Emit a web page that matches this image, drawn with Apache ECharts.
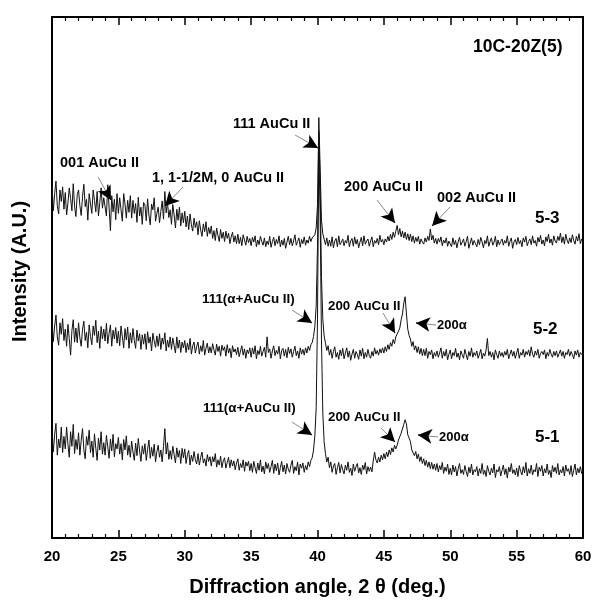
<!DOCTYPE html>
<html>
<head>
<meta charset="utf-8">
<script src="https://cdn.jsdelivr.net/npm/echarts@6/dist/echarts.min.js"></script>
<style>html,body{margin:0;padding:0;background:#fff}#chart{width:600px;height:613px}</style>
</head>
<body>
<div id="chart"></div>
<script>
// 2-theta sampling: 20.0 .. 60.0 every 0.1 deg (one row = one degree)
const thetaStart = 20, thetaStep = 0.1;
const xTickLabels = ['20','25','30','35','40','45','50','55','60'];
const seriesNames = ['5-3','5-2','5-1'];

const s53 = [
67.6,62.8,66.1,68.5,63.8,62.2,66.8,64.6,67.4,63.1,
66.3,62.0,64.3,67.2,65.2,62.8,68.0,63.7,61.7,65.9,
66.8,63.8,61.9,65.6,67.9,63.6,65.0,61.0,66.1,64.1,
62.3,66.8,64.8,62.6,66.5,61.8,64.4,67.2,63.3,65.3,
65.3,61.8,67.8,63.5,59.0,65.7,62.6,65.0,61.1,66.1,
62.3,65.3,63.0,60.8,66.1,64.1,61.4,64.8,62.5,65.7,
61.4,64.8,62.3,64.2,60.6,65.4,61.8,63.5,60.2,64.4,
63.9,60.9,65.1,62.0,60.1,64.1,63.0,65.3,60.8,62.3,
63.5,60.5,62.7,64.7,61.2,66.5,62.4,64.5,61.5,63.0,
60.2,64.0,62.0,59.5,63.1,61.0,63.5,59.9,62.4,60.5,
62.7,59.7,61.8,59.2,62.2,60.1,58.9,61.4,59.6,60.7,
58.2,60.9,59.1,57.9,60.3,58.8,60.7,57.9,59.6,58.4,
59.9,57.5,59.0,57.1,59.5,58.1,56.9,59.2,57.5,58.7,
56.9,58.9,57.5,58.5,56.5,57.8,58.7,56.8,58.0,56.5,
58.3,56.5,57.7,56.1,58.2,57.2,56.2,57.9,56.7,57.5,
56.1,57.7,56.8,58.0,55.9,57.2,56.3,57.9,56.9,56.2,
57.6,55.9,57.0,56.3,57.9,55.8,56.9,57.7,56.1,57.3,
56.5,58.0,55.9,57.2,56.2,57.5,55.6,56.8,57.9,56.3,
57.5,56.1,57.0,58.2,56.2,56.9,57.6,55.8,57.3,56.5,
57.8,56.2,57.2,56.6,57.9,56.9,57.6,57.3,58.2,59.5,
64.0,80.7,71.0,61.0,58.4,58.1,56.3,57.6,56.0,57.2,
56.0,57.8,55.7,57.0,57.5,55.9,58.0,56.3,56.8,57.4,
56.1,57.1,56.6,58.1,55.9,57.0,57.5,56.0,57.8,56.4,
57.3,55.7,56.8,57.7,56.1,58.0,56.4,57.0,57.4,56.0,
57.0,57.8,55.9,57.1,56.6,57.5,56.3,58.1,56.8,57.3,
56.3,57.4,56.8,57.9,57.0,58.3,57.3,58.7,57.7,58.9,
60.0,58.2,59.4,57.8,58.9,57.6,58.7,57.3,58.4,57.1,
58.3,56.9,58.0,56.6,57.7,56.9,57.9,56.4,57.4,56.8,
56.4,57.6,56.8,57.9,57.1,59.3,57.2,58.1,56.6,57.5,
56.4,57.5,56.8,57.8,56.1,57.2,56.6,57.6,56.0,57.0,
56.8,55.9,57.6,56.3,57.1,55.7,56.9,57.7,56.2,56.8,
57.4,56.0,56.9,57.9,55.6,56.6,57.6,56.2,57.1,56.5,
55.9,57.3,56.3,57.7,56.8,55.7,57.1,56.5,58.0,56.0,
56.9,57.6,56.2,56.8,57.9,55.9,57.2,56.3,56.9,57.4,
56.2,57.1,56.6,58.0,56.0,56.9,57.6,55.6,56.8,57.3,
56.3,57.7,56.5,57.1,55.9,57.6,56.8,57.9,56.1,56.9,
57.4,56.3,58.0,56.6,57.1,56.0,57.7,56.8,58.1,56.4,
57.2,56.1,57.8,56.9,58.3,56.6,57.4,56.2,58.0,57.0,
56.6,57.9,57.1,58.5,56.7,57.8,56.4,58.3,57.2,56.5,
57.6,56.7,58.2,57.1,56.4,57.9,57.0,58.4,56.5,57.4,
57.0
];
const s52 = [
41.7,37.7,40.7,42.8,38.6,37.0,41.3,39.1,42.1,37.9,
40.1,36.8,41.0,38.3,35.1,39.8,41.9,37.6,40.3,37.5,
41.3,38.4,36.8,40.1,41.6,37.9,39.5,36.5,40.9,38.7,
37.1,40.7,38.9,41.8,37.5,39.7,36.4,40.6,38.2,40.1,
37.8,41.2,37.3,39.2,40.9,36.8,39.9,38.2,40.4,37.4,
39.7,36.9,40.7,38.6,36.5,40.2,38.0,40.5,36.4,39.4,
37.4,40.2,37.9,36.4,39.9,37.8,39.2,36.2,39.0,37.2,
39.2,36.2,39.6,37.4,38.6,35.9,39.3,37.8,36.6,38.8,
36.8,39.2,36.2,38.4,37.2,39.4,35.9,38.0,36.6,38.6,
36.2,38.4,36.9,35.5,38.6,36.4,38.0,35.6,37.6,36.5,
37.9,35.6,37.4,36.1,38.3,35.3,36.9,37.6,35.5,36.8,
37.6,35.3,36.9,35.8,37.9,35.1,36.4,37.4,35.5,36.7,
35.5,37.3,36.1,35.1,37.2,35.8,36.8,34.9,37.0,36.0,
36.7,34.9,37.1,35.5,36.4,34.6,36.9,35.7,36.3,35.2,
36.6,34.8,35.9,36.9,35.1,36.3,34.5,36.1,35.4,36.5,
34.7,36.5,35.3,36.9,34.4,36.0,35.2,36.8,34.9,35.8,
36.6,34.7,38.6,35.6,36.3,34.5,35.9,36.9,35.0,36.0,
35.3,36.8,34.4,36.0,36.4,34.9,36.2,34.6,36.6,35.4,
36.3,34.7,35.8,36.8,35.0,35.9,34.5,36.5,35.3,36.2,
35.1,36.5,35.5,36.8,36.0,37.1,37.5,38.7,40.6,44.5,
56.0,78.0,68.0,50.0,42.0,38.8,37.4,36.0,36.9,35.1,
36.2,34.5,35.8,36.7,34.7,35.6,34.3,36.1,35.0,36.4,
34.4,35.5,36.5,34.7,35.9,34.1,35.3,36.2,34.5,35.8,
35.2,34.3,36.1,34.9,36.4,34.4,35.6,34.7,36.2,35.0,
34.5,35.8,34.9,36.5,35.3,36.0,35.1,36.3,35.5,36.5,
35.5,36.7,35.8,37.1,36.2,37.5,36.8,38.1,37.3,38.6,
38.4,39.7,40.3,41.9,43.0,45.1,46.3,43.0,40.1,38.9,
38.2,36.8,37.7,36.1,36.9,35.6,36.7,35.3,36.4,35.0,
36.2,35.0,36.4,34.5,35.8,35.2,36.1,34.4,35.6,34.9,
35.9,34.7,35.5,36.5,34.5,35.8,34.9,36.2,34.2,35.3,
36.1,34.4,35.6,35.0,36.4,34.7,35.5,34.2,35.9,35.2,
34.5,36.2,35.2,34.2,35.8,34.9,36.5,34.7,35.6,35.0,
35.9,34.5,35.3,36.2,34.4,35.5,34.9,36.1,38.3,35.0,
35.8,34.7,35.6,34.2,36.1,35.2,34.5,35.9,34.9,35.6,
34.7,35.8,35.1,36.2,34.4,35.3,36.1,34.9,35.8,34.5,
35.5,36.4,34.5,35.6,35.1,36.2,34.7,35.8,35.2,36.1,
34.9,36.7,35.3,34.7,35.9,35.1,36.2,34.5,35.4,35.8,
35.2,36.1,34.4,35.6,34.9,36.2,35.3,34.7,35.8,35.0,
35.9,34.7,35.4,36.1,34.9,35.8,34.5,35.6,35.2,36.2,
34.9,35.8,35.2,34.4,35.9,35.1,36.1,34.7,35.6,35.2,
35.0
];
const s51 = [
20.9,16.5,19.9,22.0,15.9,19.0,17.3,21.3,16.4,19.5,
17.1,21.3,18.0,15.5,20.4,17.6,21.8,16.2,18.9,17.0,
20.2,15.9,18.8,21.0,16.9,15.2,19.5,17.8,20.7,16.4,
18.6,15.5,20.0,17.2,14.9,19.2,16.9,20.4,16.1,18.3,
15.9,19.7,17.5,15.3,19.0,16.7,19.9,15.6,18.1,17.1,
19.3,16.1,18.1,15.0,18.9,16.9,19.6,15.9,17.8,15.5,
18.6,16.5,14.9,18.2,15.8,19.1,16.7,14.7,17.7,16.1,
18.1,14.9,17.0,18.8,15.3,17.4,15.7,18.0,14.6,16.6,
17.8,15.5,16.9,14.6,17.6,21.0,16.1,18.3,15.1,16.8,
15.1,17.6,16.0,14.4,17.3,15.5,16.8,14.3,17.2,15.4,
17.1,14.3,16.0,16.8,14.0,15.9,14.7,16.6,15.0,14.2,
16.2,14.0,15.5,16.5,14.4,15.2,13.8,16.0,14.7,15.6,
13.8,15.6,14.6,16.2,13.6,15.0,14.0,15.7,13.5,14.8,
15.4,13.4,14.5,15.5,13.5,15.0,13.8,14.8,13.1,14.4,
15.2,13.0,14.3,13.5,15.0,12.8,14.6,13.8,14.7,12.9,
14.3,12.6,14.7,13.5,12.4,14.4,13.0,15.0,12.7,13.8,
12.3,14.6,13.3,14.3,12.6,13.7,14.9,12.4,14.2,12.9,
14.4,12.1,13.5,14.7,12.7,14.0,12.3,14.3,13.2,12.6,
14.0,14.9,12.4,13.7,12.9,14.6,12.1,14.2,13.4,14.4,
12.6,13.9,13.1,14.6,13.7,14.9,15.4,16.9,19.6,25.0,
42.0,75.0,62.0,38.0,24.0,18.5,16.2,14.6,15.5,13.5,
14.6,12.6,13.8,14.3,12.2,13.5,14.5,12.5,14.1,13.1,
12.3,14.0,13.0,14.6,12.6,13.4,12.0,14.2,12.8,13.7,
14.3,12.5,13.5,12.2,14.0,13.1,14.5,12.3,13.7,12.8,
13.6,12.7,14.8,16.5,15.0,14.4,15.5,14.6,15.9,15.0,
16.2,15.2,16.5,15.6,16.9,16.0,17.3,16.5,17.8,17.1,
17.8,18.8,18.7,20.1,20.4,21.8,22.7,21.9,19.8,19.2,
18.5,16.9,17.2,15.8,16.6,15.2,16.1,14.7,15.6,14.3,
15.2,13.9,14.9,13.6,14.6,13.3,14.5,13.2,14.2,13.0,
14.3,12.7,13.9,13.1,14.5,12.4,13.6,12.8,14.2,12.2,
13.4,12.1,14.0,12.7,13.7,11.9,13.3,14.3,12.4,13.1,
12.2,13.9,12.8,11.8,13.6,12.5,14.2,12.1,13.1,12.7,
13.7,11.9,13.3,12.4,14.3,12.2,13.0,11.8,13.9,12.8,
12.1,13.4,12.5,14.2,11.6,13.1,12.7,13.7,11.9,13.0,
14.0,12.2,13.3,11.5,13.6,12.7,14.3,12.4,13.1,12.1,
13.4,11.8,13.9,12.8,12.1,13.7,12.5,14.5,11.9,13.3,
12.4,14.0,12.1,13.1,12.7,14.3,11.8,13.6,12.8,13.9,
11.9,13.3,12.5,14.2,12.2,13.0,11.6,13.9,12.7,13.6,
12.4,14.3,12.1,13.1,12.5,13.7,11.9,14.0,12.8,13.3,
12.2,13.9,11.8,13.0,14.2,12.1,13.4,12.5,13.7,12.4,
13.0
];

// annotation arrows in data coordinates: [tailX, tailY, headStartX, headStartY, tipX, tipY]
const arrows = [
  [38.31,77.35, 39.38,75.80, 40.04,74.86],
  [23.47,69.29, 24.08,66.54, 24.44,64.88],
  [29.87,67.37, 29.03,65.12, 28.51,63.72],
  [44.48,64.88, 45.37,61.98, 45.84,60.46],
  [49.98,63.53, 49.15,61.29, 48.63,59.88],
  [38.08,43.76, 38.95,42.32, 39.59,41.27],
  [44.93,43.19, 45.45,41.00, 45.84,39.35],
  [48.93,40.88, 48.17,41.07, 47.42,41.27],
  [38.08,22.26, 38.95,20.83, 39.59,19.77],
  [44.78,21.11, 45.30,19.79, 45.84,18.43],
  [49.08,19.39, 48.32,19.58, 47.57,19.77]
];

const FONT = 'Liberation Sans, Arial, Helvetica, sans-serif';

function pairs(vals){
  return vals.map((v,i)=>[+(thetaStart + i*thetaStep).toFixed(1), v]);
}

const markData = [];
arrows.forEach(a=>{
  markData.push([
    {coord:[a[0],a[1]], symbol:'none', lineStyle:{color:'#8a8a8a', width:1, type:'solid'}},
    {coord:[a[4],a[5]], symbol:'none'}
  ]);
  markData.push([
    {coord:[a[2],a[3]], symbol:'none', lineStyle:{color:'#000', width:1, type:'solid'}},
    {coord:[a[4],a[5]], symbol:'arrow', symbolSize:[11,14]}
  ]);
});

const labels = [
  ['10C-20Z(5)', 473, 47, 17.5],
  ['111 AuCu II', 233, 124, 14.5],
  ['001 AuCu II', 60, 163, 14.5],
  ['1, 1-1/2M, 0 AuCu II', 152, 178, 14.5],
  ['200 AuCu II', 344, 187, 14.5],
  ['002 AuCu II', 437, 198, 14.5],
  ['5-3', 535, 218, 17],
  ['111(\u03b1+AuCu II)', 202, 299, 13.4],
  ['200 AuCu II', 328, 306, 13.3],
  ['200\u03b1', 437, 325, 13],
  ['5-2', 533, 329, 17],
  ['111(\u03b1+AuCu II)', 203, 408, 13.4],
  ['200 AuCu II', 328, 417, 13.3],
  ['200\u03b1', 439, 437, 13],
  ['5-1', 535, 437, 17]
];

const chart = echarts.init(document.getElementById('chart'), null, {renderer:'canvas'});
const lineStyle = {color:'#111', width:1};
const axisLineStyle = {color:'#000', width:2};

const option = {
  animation:false,
  backgroundColor:'#fff',
  grid:{left:52, right:17, top:17, bottom:75},
  xAxis:[{
    type:'value', position:'bottom', min:20, max:60, interval:5,
    axisLine:{show:true, onZero:false, lineStyle:axisLineStyle},
    axisTick:{show:true, inside:true, length:8, lineStyle:{color:'#000', width:1.5}},
    minorTick:{show:true, splitNumber:5, length:4, lineStyle:{color:'#000', width:1.2}},
    splitLine:{show:false},
    axisLabel:{show:true, margin:11, color:'#000', fontSize:15, fontWeight:'bold', fontFamily:FONT,
      formatter:(v)=>xTickLabels[Math.round((v-20)/5)]},
    name:'Diffraction angle, 2 \u03b8 (deg.)', nameLocation:'middle', nameGap:39,
    nameTextStyle:{color:'#000', fontSize:20, fontWeight:'bold', fontFamily:FONT}
  },{
    type:'value', position:'top', min:20, max:60, interval:5,
    axisLine:{show:true, onZero:false, lineStyle:axisLineStyle},
    axisTick:{show:true, inside:true, length:8, lineStyle:{color:'#000', width:1.5}},
    minorTick:{show:true, splitNumber:5, length:4, lineStyle:{color:'#000', width:1.2}},
    splitLine:{show:false}, axisLabel:{show:false}
  }],
  yAxis:[{
    type:'value', position:'left', min:0, max:100,
    axisLine:{show:true, onZero:false, lineStyle:axisLineStyle},
    axisTick:{show:false}, axisLabel:{show:false}, splitLine:{show:false},
    name:'Intensity (A.U.)', nameLocation:'middle', nameGap:22,
    nameTextStyle:{color:'#000', fontSize:20, fontWeight:'bold', fontFamily:FONT, padding:[0,0,0,12]}
  },{
    type:'value', position:'right', min:0, max:100,
    axisLine:{show:true, onZero:false, lineStyle:axisLineStyle},
    axisTick:{show:false}, axisLabel:{show:false}, splitLine:{show:false}
  }],
  series:[
    {name:seriesNames[0], type:'line', data:pairs(s53), showSymbol:false, symbol:'none', lineStyle:lineStyle, silent:true,
     markLine:{silent:true, animation:false, label:{show:false}, data:markData}},
    {name:seriesNames[1], type:'line', data:pairs(s52), showSymbol:false, symbol:'none', lineStyle:lineStyle, silent:true},
    {name:seriesNames[2], type:'line', data:pairs(s51), showSymbol:false, symbol:'none', lineStyle:lineStyle, silent:true}
  ],
  graphic: labels.map(l=>({
    type:'text', x:l[1], y:l[2], silent:true,
    style:{text:l[0], fill:'#000', fontSize:l[3], fontWeight:'bold', fontFamily:FONT, verticalAlign:'middle', align:'left'}
  }))
};
chart.setOption(option);
</script>
</body>
</html>
